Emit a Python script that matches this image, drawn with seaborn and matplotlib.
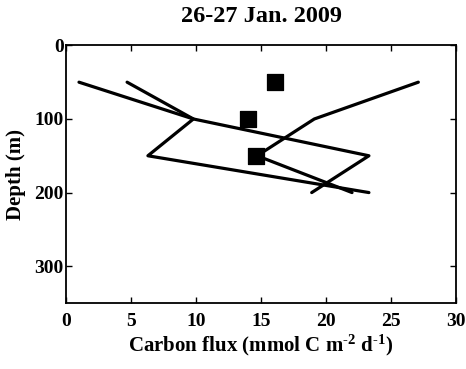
import matplotlib
matplotlib.use("Agg")
import matplotlib.pyplot as plt
import seaborn as sns
import pandas as pd

depth = [50, 100, 150, 200]
flux_a = [1.0, 9.8, 23.3, 18.9]
flux_b = [4.7, 9.8, 6.3, 23.3]
flux_c = [27.1, 19.1, 14.7, 22.0]
obs_depth = [50, 100, 150]
obs_flux = [16.1, 14.0, 14.6]

sns.set_style("ticks")
plt.rcParams['font.family'] = ['Liberation Serif', 'DejaVu Serif']
plt.rcParams['font.weight'] = 'bold'
plt.rcParams['text.color'] = 'black'
plt.rcParams['axes.labelcolor'] = 'black'
plt.rcParams['xtick.color'] = 'black'
plt.rcParams['ytick.color'] = 'black'
plt.rcParams['axes.edgecolor'] = 'black'
plt.rcParams['mathtext.fontset'] = 'custom'
plt.rcParams['mathtext.rm'] = 'Liberation Serif:bold'
plt.rcParams['mathtext.default'] = 'rm'

fig = plt.figure(figsize=(4.66, 3.69), dpi=100)
ax = fig.add_axes([0.1416, 0.179, 0.837, 0.698])

for fl in (flux_a, flux_b, flux_c):
    df = pd.DataFrame({"flux": fl, "depth": depth})
    sns.lineplot(data=df, x="flux", y="depth", sort=False, estimator=None,
                 color="black", linewidth=2.3, ax=ax)
dfo = pd.DataFrame({"flux": obs_flux, "depth": obs_depth})
sns.scatterplot(data=dfo, x="flux", y="depth", marker="s", s=130,
                color="black", edgecolor="black", ax=ax, zorder=5)

ax.set_xlim(0, 30)
ax.set_ylim(350, 0)
ax.set_xticks([0, 5, 10, 15, 20, 25, 30])
ax.set_yticks([0, 100, 200, 300])
ax.tick_params(direction="in", top=True, right=True, labelsize=14, width=1, length=4)
ax.tick_params(axis="x", pad=7)
ax.tick_params(axis="y", pad=1.5)
for lab in ax.get_xticklabels() + ax.get_yticklabels():
    lab.set_fontweight("bold")
for sp in ax.spines.values():
    sp.set_linewidth(1.3)
ax.set_xlabel("Carbon flux (mmol C m$^{\\text{-}2}$ d$^{\\text{-}1}$)", fontsize=15, fontweight="bold", labelpad=2)
ax.set_ylabel("Depth (m)", fontsize=15, fontweight="bold", labelpad=6)
ax.set_title("26-27 Jan. 2009", fontsize=17.5, fontweight="bold", pad=17)
fig.savefig("out.png", dpi=100)
